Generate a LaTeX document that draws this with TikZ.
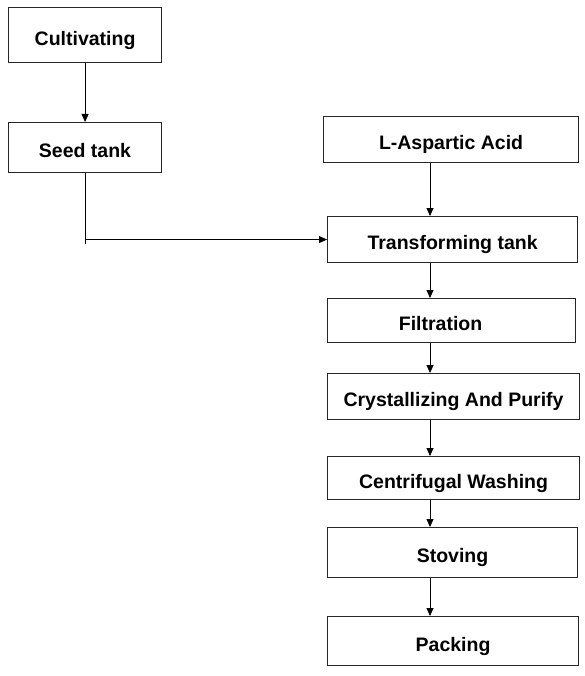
\documentclass[tikz,border=0pt]{standalone}
\usepackage{fontspec}
\setmainfont{Liberation Sans}
\usetikzlibrary{arrows.meta}

\begin{document}
\begin{tikzpicture}[
    % pixel grid of the reference, y pointing down
    x=1pt, y=-1pt,
    % boxes of the process
    stepbox/.style={draw=black!85, line width=1.1pt, anchor=north west, inner sep=0pt,
        font=\fontsize{19.5}{22}\selectfont\bfseries, text height=20pt, text depth=0pt},
    % arrows between boxes
    flow/.style={-{Triangle[length=8pt,width=7pt]}, line width=0.8pt}
]
    \useasboundingbox (0,0) rectangle (585,676);

    % Left column
    \node[stepbox, minimum width=153pt, minimum height=55pt] (cult) at (8,7) {Cultivating};
    \node[stepbox, minimum width=153pt, minimum height=50pt] (seed) at (8,122) {Seed tank};

    % Right column
    \node[stepbox, minimum width=255pt, minimum height=46pt] (asp) at (323,116) {L-Aspartic Acid};
    \node[stepbox, minimum width=250pt, minimum height=46pt] (trans) at (327,216) {Transforming tank};
    \node[stepbox, minimum width=248pt, minimum height=44pt] (filt) at (327,298) {Filtration\kern22pt};
    \node[stepbox, minimum width=252pt, minimum height=46pt] (cryst) at (327,373) {Crystallizing And Purify};
    \node[stepbox, minimum width=252pt, minimum height=43pt] (cent) at (327,456) {Centrifugal Washing};
    \node[stepbox, minimum width=250pt, minimum height=50pt] (stov) at (327,527) {Stoving};
    \node[stepbox, minimum width=251pt, minimum height=49pt] (pack) at (327,616) {Packing};

    \coordinate (spine) at (430,0);

    % Connectors
    \draw[flow] (cult) -- (seed);
    \draw[line width=0.8pt] (seed.south) -- ([yshift=-4pt]seed.south |- trans.west);
    \draw[flow] (seed.south |- trans.west) -- (trans.west);
    \draw[flow] (asp.south -| spine) -- (trans.north -| spine);
    \draw[flow] (trans.south -| spine) -- (filt.north -| spine);
    \draw[flow] (filt.south -| spine) -- (cryst.north -| spine);
    \draw[flow] (cryst.south -| spine) -- (cent.north -| spine);
    \draw[flow] (cent.south -| spine) -- (stov.north -| spine);
    \draw[flow] (stov.south -| spine) -- (pack.north -| spine);

\end{tikzpicture}
\end{document}
